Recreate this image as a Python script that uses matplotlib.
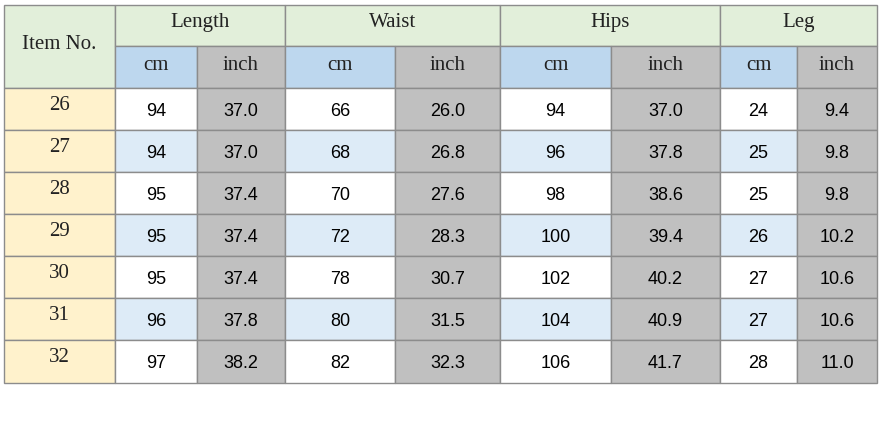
import matplotlib.pyplot as plt
from matplotlib.patches import Rectangle

# values
item_no = ["26", "27", "28", "29", "30", "31", "32"]
groups = ["Length", "Waist", "Hips", "Leg"]
length_cm = [94, 94, 95, 95, 95, 96, 97]
length_in = ["37.0", "37.0", "37.4", "37.4", "37.4", "37.8", "38.2"]
waist_cm = [66, 68, 70, 72, 78, 80, 82]
waist_in = ["26.0", "26.8", "27.6", "28.3", "30.7", "31.5", "32.3"]
hips_cm = [94, 96, 98, 100, 102, 104, 106]
hips_in = ["37.0", "37.8", "38.6", "39.4", "40.2", "40.9", "41.7"]
leg_cm = [24, 25, 25, 26, 27, 27, 28]
leg_in = ["9.4", "9.8", "9.8", "10.2", "10.6", "10.6", "11.0"]

columns = [length_cm, length_in, waist_cm, waist_in, hips_cm, hips_in, leg_cm, leg_in]

# layout in pixels
col_x = [4, 115, 197, 285, 395, 500, 611, 720, 797, 877]
row_y = [5, 46, 88, 130, 172, 214, 256, 298, 340, 383]

GREEN = "#e2efda"
BLUE = "#bdd7ee"
GRAY = "#c0c0c0"
YELLOW = "#fff2cc"
LIGHT = "#ddebf7"
EDGE = "#8c8c8c"

fig = plt.figure(figsize=(8.86, 4.28), dpi=100)
ax = fig.add_axes([0, 0, 1, 1])
ax.set_xlim(0, 886)
ax.set_ylim(428, 0)
ax.axis("off")


def cell(x0, x1, y0, y1, color):
    ax.add_patch(Rectangle((x0, y0), x1 - x0, y1 - y0, facecolor=color,
                           edgecolor=EDGE, linewidth=1))


serif = dict(family="Liberation Serif", fontsize=15, color="#222222")
sans = dict(family="Liberation Sans", fontsize=13, color="black")

# header
cell(col_x[0], col_x[1], row_y[0], row_y[2], GREEN)
ax.text((col_x[0] + col_x[1]) / 2, 44, "Item No.", ha="center", va="center", **serif)
for g, name in enumerate(groups):
    x0, x1 = col_x[1 + 2 * g], col_x[3 + 2 * g]
    cell(x0, x1, row_y[0], row_y[1], GREEN)
    ax.text((x0 + x1) / 2, 22, name, ha="center", va="center", **serif)
    for k, unit in enumerate(["cm", "inch"]):
        a, b = col_x[1 + 2 * g + k], col_x[2 + 2 * g + k]
        cell(a, b, row_y[1], row_y[2], BLUE if k == 0 else GRAY)
        ax.text((a + b) / 2, 65, unit, ha="center", va="center", **serif)

# body
for r, item in enumerate(item_no):
    y0, y1 = row_y[2 + r], row_y[3 + r]
    cell(col_x[0], col_x[1], y0, y1, YELLOW)
    ax.text((col_x[0] + col_x[1]) / 2, y0 + 17, item, ha="center", va="center", **serif)
    row_bg = "white" if r % 2 == 0 else LIGHT
    for c, values in enumerate(columns):
        a, b = col_x[1 + c], col_x[2 + c]
        cell(a, b, y0, y1, row_bg if c % 2 == 0 else GRAY)
        ax.text((a + b) / 2, (y0 + y1) / 2 + 2, str(values[r]),
                ha="center", va="center", **sans)

fig.savefig("out.png", dpi=100, facecolor="white")
